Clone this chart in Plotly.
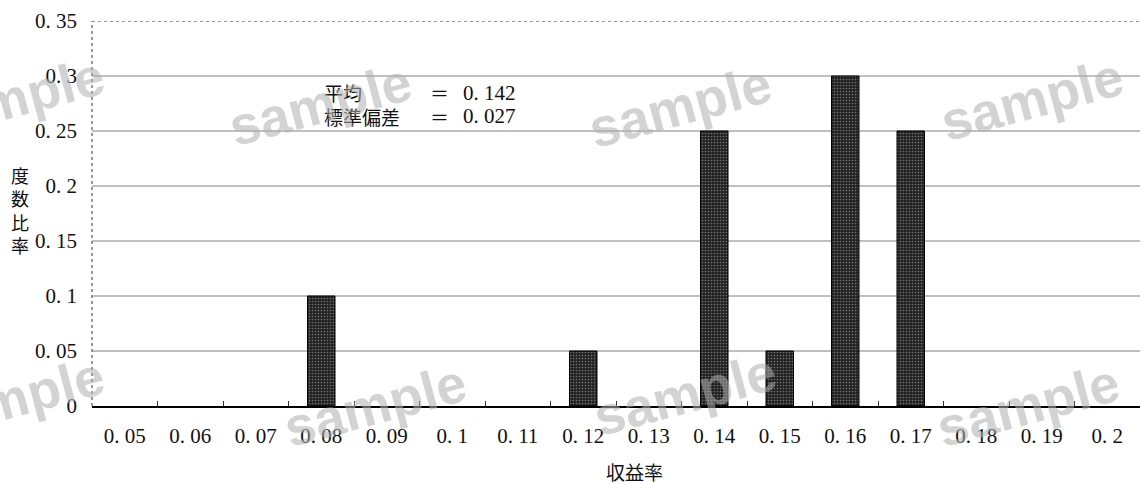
import plotly.graph_objects as go

categories = ["0. 05", "0. 06", "0. 07", "0. 08", "0. 09", "0. 1", "0. 11", "0. 12",
              "0. 13", "0. 14", "0. 15", "0. 16", "0. 17", "0. 18", "0. 19", "0. 2"]
values = [0, 0, 0, 0.10, 0, 0, 0, 0.05, 0, 0.25, 0.05, 0.30, 0.25, 0, 0, 0]
y_ticks = [0, 0.05, 0.10, 0.15, 0.20, 0.25, 0.30, 0.35]
y_tick_labels = ["0", "0. 05", "0. 1", "0. 15", "0. 2", "0. 25", "0. 3", "0. 35"]
grid_levels = [0.05, 0.10, 0.15, 0.20, 0.25, 0.30]
stats_names = ["平均", "標準偏差"]
stats_values = ["0. 142", "0. 027"]

FONT = "Liberation Serif, Noto Sans CJK JP, serif"
CJK = "Noto Sans CJK JP"

fig = go.Figure()
fig.add_trace(go.Bar(
    x=categories, y=values,
    marker=dict(color="#2e2e2e",
                line=dict(color="#000000", width=[1 if v > 0 else 0 for v in values]),
                pattern=dict(shape=".", fgcolor="#707070", bgcolor="#222222",
                             size=3, solidity=0.25, fillmode="replace")),
    width=0.42,
))

shapes = []
for g in grid_levels:
    shapes.append(dict(type="line", xref="paper", yref="y", x0=0, x1=1, y0=g, y1=g,
                       line=dict(color="#808080", width=1), layer="below"))
shapes.append(dict(type="line", xref="paper", yref="y", x0=0, x1=1, y0=0.35, y1=0.35,
                   line=dict(color="#777777", width=1.5, dash="dot")))
shapes.append(dict(type="line", xref="paper", yref="y", x0=0, x1=0, y0=0, y1=0.35,
                   line=dict(color="#777777", width=1.5, dash="dot")))

annotations = []
row_y = [0.813, 0.753]
for name, val, ry in zip(stats_names, stats_values, row_y):
    annotations.append(dict(text=name, xref="paper", yref="paper", x=0.2195, y=ry,
                            xanchor="left", yanchor="middle", showarrow=False,
                            font=dict(family=CJK, size=19, color="#111")))
    annotations.append(dict(text="＝", xref="paper", yref="paper", x=0.3205, y=ry,
                            xanchor="left", yanchor="middle", showarrow=False,
                            font=dict(family=CJK, size=19, color="#111")))
    annotations.append(dict(text=val, xref="paper", yref="paper", x=0.3525, y=ry,
                            xanchor="left", yanchor="middle", showarrow=False,
                            font=dict(family=FONT, size=21, color="#111")))

annotations.append(dict(text="度<br>数<br>比<br>率", xref="paper", yref="paper",
                        x=-0.0687, y=0.509, xanchor="center", yanchor="middle",
                        showarrow=False, align="center",
                        font=dict(family=CJK, size=18, color="#111")))
annotations.append(dict(text="収益率", xref="paper", yref="paper", x=0.518, y=-0.169,
                        xanchor="center", yanchor="middle", showarrow=False,
                        font=dict(family=CJK, size=19, color="#111")))

# watermark ("sample") overlays
wm = [(-0.075, 0.80), (0.218, 0.785), (0.561, 0.778), (0.897, 0.797),
      (-0.075, 0.02), (0.27, 0.003), (0.566, 0.03), (0.893, 0.003)]
for (wx, wy) in wm:
    annotations.append(dict(text="<b>sample</b>", xref="paper", yref="paper", x=wx, y=wy,
                            xanchor="center", yanchor="middle", showarrow=False,
                            textangle=-15,
                            font=dict(family="Liberation Sans", size=54,
                                      color="rgba(175,175,175,0.55)")))

fig.update_layout(
    width=1140, height=484,
    margin=dict(l=92, r=0, t=21, b=78, autoexpand=False),
    paper_bgcolor="white", plot_bgcolor="white",
    showlegend=False,
    shapes=shapes,
    annotations=annotations,
    xaxis=dict(
        type="category", categoryorder="array", categoryarray=categories,
        automargin=False,
        showgrid=False, showline=True, linecolor="#000000", linewidth=1.5,
        ticks="inside", tickson="boundaries", ticklen=5, tickcolor="#333333",
        tickfont=dict(family=FONT, size=21, color="#111"),
        ticklabelstandoff=10,
        range=[-0.5, 15.5], fixedrange=True,
    ),
    yaxis=dict(
        range=[0, 0.35], tickvals=y_ticks, ticktext=y_tick_labels,
        automargin=False, fixedrange=True,
        showgrid=False, zeroline=False, showline=False, ticks="",
        tickfont=dict(family=FONT, size=21, color="#111"),
        ticklabelstandoff=14,
    ),
)

fig.write_html("out.html", config={"displayModeBar": False},
               post_script="document.body.style.margin='0';document.body.style.overflow='hidden';")
